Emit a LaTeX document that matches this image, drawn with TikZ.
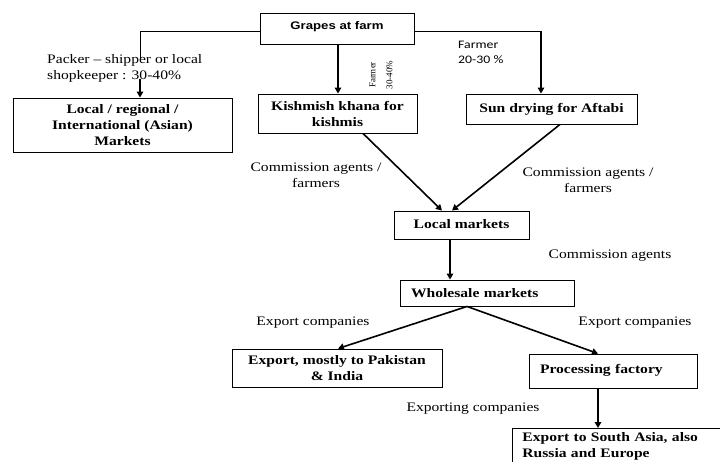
\documentclass[tikz,border=0pt]{standalone}
\usepackage{fontspec}
\setmainfont[FakeStretch=1.2]{Liberation Serif}
\newfontfamily\arialb[FakeStretch=1.2]{Liberation Sans}
\newfontfamily\calib[FakeStretch=1.2]{Carlito}
\newfontfamily\tinyserif{Liberation Serif}
\usetikzlibrary{arrows.meta}
\begin{document}
\begin{tikzpicture}[x=1pt,y=-1pt,
  box/.style={draw,line width=0.9pt,inner sep=0pt,font=\fontsize{13}{16}\selectfont\bfseries,align=center},
  lbl/.style={inner sep=0pt,font=\fontsize{13}{16}\selectfont,align=center},
  thin/.style={line width=0.9pt},
  arr/.style={line width=1.6pt,-{Triangle[length=6pt,width=6.5pt]}}]
\useasboundingbox (0,0) rectangle (720,461);
\clip (0,0) rectangle (720,461);
% boxes
\node[box,font=\arialb\fontsize{11}{13}\selectfont\bfseries,minimum width=154pt,minimum height=31pt] (grapes) at (337,28.5) {\raisebox{5pt}{Grapes at farm}};
\node[box,minimum width=219pt,minimum height=54pt] (local) at (122.5,125) {Local / regional /\\International (Asian)\\Markets};
\node[box,minimum width=159pt,minimum height=39pt] (kish) at (337.5,113.5) {Kishmish khana for\\kishmis};
\node[box,minimum width=171pt,minimum height=30pt] (sun) at (551.5,109) {\raisebox{3pt}{Sun drying for Aftabi}};
\node[box,minimum width=135pt,minimum height=28pt] (lm) at (461.5,225) {\raisebox{2pt}{Local markets}};
\node[box,minimum width=174pt,minimum height=26pt,align=left,text width=152pt] (ws) at (487,293) {\raisebox{1pt}{Wholesale markets}};
\node[box,minimum width=210pt,minimum height=38pt] (ex) at (337,368) {Export, mostly to Pakistan\\\& India};
\node[box,minimum width=168pt,minimum height=34pt,align=left,text width=146pt] (pf) at (613,371) {\raisebox{4pt}{Processing factory}};
\node[box,minimum width=240pt,minimum height=36pt,anchor=north west,align=left,text width=220pt] (sa) at (512,428) {Export to South Asia, also\\Russia and Europe};
% labels
\node[lbl,align=left,anchor=west] (packer) at (47,68) {Packer -- shipper or local\\shopkeeper : 30-40\%};
\node[lbl,align=left,anchor=west,font=\calib\fontsize{11.5}{15}\selectfont] (farmer2) at (458,52.5) {Farmer\\20-30 \%};
\node[lbl,rotate=90,font=\tinyserif\fontsize{9}{17}\selectfont] (farmer1) at (381,75) {Farmer\\30-40\%};
\node[lbl] (ca1) at (316,175) {Commission agents /\\farmers};
\node[lbl] (ca2) at (588,180.5) {Commission agents /\\farmers};
\node[lbl] (ca3) at (610,256) {Commission agents};
\node[lbl] (ec1) at (313,323) {Export companies};
\node[lbl] (ec2) at (635,323) {Export companies};
\node[lbl] (exc) at (473,409) {Exporting companies};
% connectors
\coordinate (c1) at (140,58);
\coordinate (c2) at (140,79);
\coordinate (c3) at (541,31);
\draw[thin] ([yshift=-2.5pt]grapes.west) -| (c1);
\draw[arr] (c2) -- ([xshift=17.5pt]local.north);
\draw[arr] ([xshift=1pt]grapes.south) -- ([xshift=0.5pt]kish.north);
\draw[thin] ([yshift=-2.5pt]grapes.east) -- (c3);
\draw[arr] (c3) -- ([xshift=-10.5pt]sun.north);
\draw[arr] ([xshift=25.5pt]kish.south) -- ([xshift=-19.5pt]lm.north);
\draw[arr] ([xshift=8.5pt]sun.south) -- ([xshift=-9.5pt]lm.north);
\draw[arr] ([xshift=-11.5pt]lm.south) -- ([xshift=-37pt]ws.north);
\draw[arr] ([xshift=-20pt]ws.south) -- ([xshift=1pt]ex.north);
\draw[arr] ([xshift=-20pt]ws.south) -- ([xshift=-15pt]pf.north);
\draw[arr] ([xshift=-15pt]pf.south) -- ([xshift=86pt]sa.north west);
\end{tikzpicture}
\end{document}
